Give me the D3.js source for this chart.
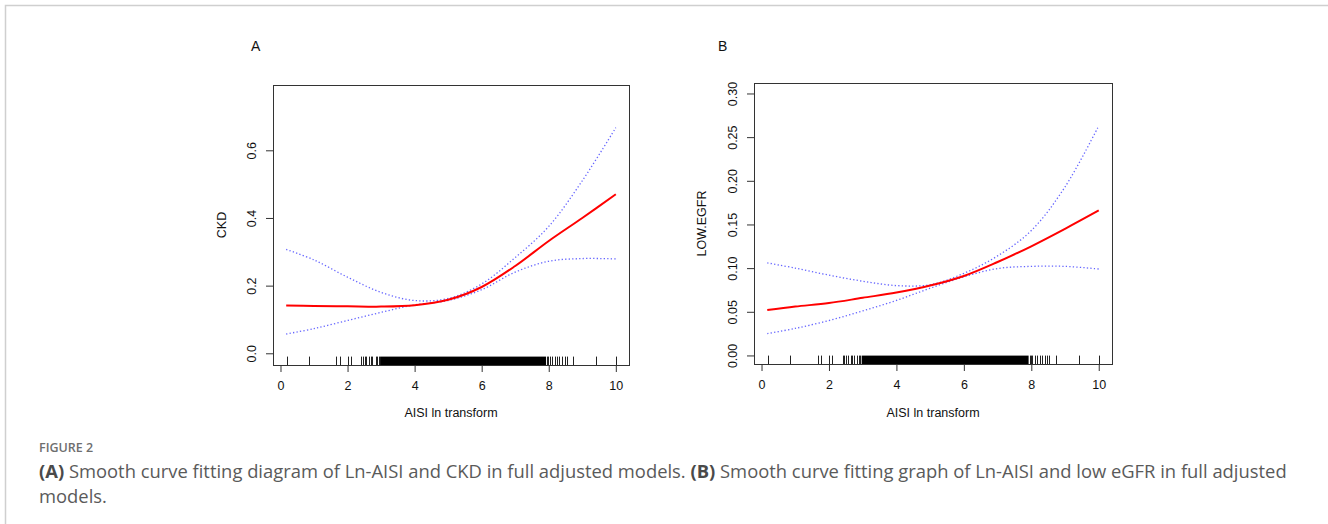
<!DOCTYPE html>
<html>
<head>
<meta charset="utf-8">
<script src="https://cdn.jsdelivr.net/npm/d3@7"></script>
<style>
	body { margin: 0; background: #fff; }
	svg { display: block; }
	.tick text, .ptitle, .atitle { font-family: 'Liberation Sans', Arial, sans-serif; fill: #111; }
	.caption { font-family: 'Open Sans', 'Noto Sans', sans-serif; }
</style>
</head>
<body>
<div id="chart"></div>
<script>
// data ///////////////////////////////////////////////////////////////////////////
var xGrid = [0.17, 1, 2, 3, 4, 5, 6, 7, 8, 9, 10];

var ckdFit   = [0.141, 0.140, 0.139, 0.138, 0.142, 0.158, 0.196, 0.258, 0.332, 0.400, 0.470];
var ckdUpper = [0.307, 0.276, 0.225, 0.180, 0.156, 0.162, 0.205, 0.283, 0.375, 0.510, 0.667];
var ckdLower = [0.057, 0.073, 0.097, 0.121, 0.143, 0.156, 0.188, 0.240, 0.272, 0.280, 0.279];

var egfrFit   = [0.052, 0.056, 0.060, 0.066, 0.072, 0.080, 0.091, 0.107, 0.125, 0.145, 0.166];
var egfrUpper = [0.106, 0.100, 0.092, 0.085, 0.080, 0.081, 0.094, 0.114, 0.143, 0.193, 0.263];
var egfrLower = [0.025, 0.031, 0.040, 0.051, 0.063, 0.077, 0.090, 0.0995, 0.102, 0.102, 0.099];

// observed AISI (ln) values, sparse tails of the rug
var rugTicks = [0.18, 0.85, 1.67, 1.77, 2.00, 2.10, 2.41, 2.46, 2.51, 2.56, 2.64, 2.69, 2.74, 2.84, 2.88, 2.93,
	7.95, 7.98, 8.03, 8.11, 8.18, 8.25, 8.31, 8.41, 8.48, 8.53, 8.73, 9.40, 10.0];
// span where the rug is solid black
var rugDense = [2.97, 7.92];

var xTicks = [0, 2, 4, 6, 8, 10];
var ckdTicks = [0, 0.2, 0.4, 0.6];
var egfrTicks = [0, 0.05, 0.10, 0.15, 0.20, 0.25, 0.30];

var captionA = 'Smooth curve fitting diagram of Ln-AISI and CKD in full adjusted models. ';
var captionB = 'Smooth curve fitting graph of Ln-AISI and low eGFR in full adjusted';
var captionEnd = 'models.';

// layout ///////////////////////////////////////////////////////////////////////////
var width = 1328, height = 524;

var svg = d3.select('#chart').append('svg')
	.attr('width', width)
	.attr('height', height);

svg.append('rect')
	.attr('width', width)
	.attr('height', height)
	.attr('fill', '#fff');

// page frame
svg.append('path')
	.attr('d', 'M5.5,' + height + 'V5.5H' + width)
	.attr('fill', 'none')
	.attr('stroke', '#cfcfcf')
	.attr('stroke-width', 1.5);

function drawPanel(opts) {
	var xmin = d3.min(xGrid), xmax = d3.max(xGrid);
	var pad = (xmax - xmin) * 0.04;
	var x = d3.scaleLinear()
		.domain([xmin - pad, xmax + pad])
		.range([opts.box[0], opts.box[1]]);
	var y = d3.scaleLinear()
		.domain(opts.ydomain)
		.range([opts.box[3], opts.box[2]]);

	var g = svg.append('g');

	// axes
	var xAxis = g.append('g')
		.attr('transform', 'translate(0,' + opts.box[3] + ')')
		.call(d3.axisBottom(x).tickValues(xTicks).tickSize(7).tickFormat(d3.format('d')));
	xAxis.select('.domain').remove();
	xAxis.selectAll('line').attr('stroke', '#333');
	xAxis.selectAll('text')
		.attr('y', 25)
		.attr('dy', 0)
		.style('font-size', '12.5px');

	var yAxis = g.append('g')
		.attr('transform', 'translate(' + opts.box[0] + ',0)')
		.call(d3.axisLeft(y).tickValues(opts.yticks).tickSize(7).tickFormat(d3.format(opts.yfmt)));
	yAxis.select('.domain').remove();
	yAxis.selectAll('line').attr('stroke', '#333');
	yAxis.selectAll('text')
		.attr('x', 0)
		.attr('y', -17)
		.attr('dy', 0)
		.attr('text-anchor', 'middle')
		.attr('transform', 'rotate(-90)')
		.style('font-size', '12.5px');

	// rug
	g.append('rect')
		.attr('x', x(rugDense[0]))
		.attr('y', opts.box[3] - 8.4)
		.attr('width', x(rugDense[1]) - x(rugDense[0]))
		.attr('height', 8.4)
		.attr('fill', '#000');
	g.selectAll('.rug')
		.data(rugTicks)
		.enter().append('line')
		.attr('class', 'rug')
		.attr('x1', function(d) { return Math.round(x(d)) + 0.5; })
		.attr('x2', function(d) { return Math.round(x(d)) + 0.5; })
		.attr('y1', opts.box[3] - 8.4)
		.attr('y2', opts.box[3])
		.attr('stroke', '#222')
		.attr('stroke-width', 1);

	// curves
	var line = d3.line()
		.x(function(d, i) { return x(xGrid[i]); })
		.y(function(d) { return y(d); })
		.curve(d3.curveCatmullRom.alpha(0.5));

	[opts.upper, opts.lower].forEach(function(s) {
		g.append('path')
			.attr('d', line(s))
			.attr('fill', 'none')
			.attr('stroke', '#4a4aff')
			.attr('stroke-opacity', 0.85)
			.attr('stroke-width', 1.3)
			.attr('stroke-dasharray', '1.3,2.2');
	});
	g.append('path')
		.attr('d', line(opts.fit))
		.attr('fill', 'none')
		.attr('stroke', '#ff0000')
		.attr('stroke-width', 2);

	// box
	g.append('rect')
		.attr('x', opts.box[0] + 0.5)
		.attr('y', opts.box[2] + 0.5)
		.attr('width', opts.box[1] - opts.box[0])
		.attr('height', opts.box[3] - opts.box[2])
		.attr('fill', 'none')
		.attr('stroke', '#333')
		.attr('stroke-width', 1);

	// titles
	g.append('text')
		.attr('class', 'ptitle')
		.attr('x', opts.labelx)
		.attr('y', 50.5)
		.style('font-size', '14px')
		.text(opts.label);
	g.append('text')
		.attr('class', 'atitle')
		.attr('x', (opts.box[0] + opts.box[1]) / 2)
		.attr('y', 416.5)
		.attr('text-anchor', 'middle')
		.style('font-size', '12.5px')
		.text('AISI ln transform');
	g.append('text')
		.attr('class', 'atitle')
		.attr('transform', 'translate(' + opts.ytitlex + ',' + (opts.box[2] + opts.box[3]) / 2 + ') rotate(-90)')
		.attr('text-anchor', 'middle')
		.style('font-size', '12.5px')
		.text(opts.ytitle);
}

drawPanel({
	box: [273, 629, 85, 365],
	ydomain: [-0.0346, 0.793],
	yticks: ckdTicks,
	yfmt: '.1f',
	fit: ckdFit, upper: ckdUpper, lower: ckdLower,
	label: 'A', labelx: 251,
	ytitle: 'CKD', ytitlex: 226
});

drawPanel({
	box: [754, 1112, 83, 364],
	ydomain: [-0.0098, 0.312],
	yticks: egfrTicks,
	yfmt: '.2f',
	fit: egfrFit, upper: egfrUpper, lower: egfrLower,
	label: 'B', labelx: 718,
	ytitle: 'LOW.EGFR', ytitlex: 706
});

// caption
svg.append('text')
	.attr('class', 'caption')
	.attr('x', 39)
	.attr('y', 452)
	.attr('fill', '#6e6e6e')
	.style('font-size', '12.5px')
	.style('font-weight', 600)
	.text('FIGURE 2');

var cap1 = svg.append('text')
	.attr('class', 'caption')
	.attr('x', 39)
	.attr('y', 478)
	.attr('fill', '#5a5a5a')
	.style('font-size', '17px');
cap1.append('tspan').style('font-weight', 700).attr('fill', '#4a4a4a').text('(A)');
cap1.append('tspan').text(' ' + captionA);
cap1.append('tspan').style('font-weight', 700).attr('fill', '#4a4a4a').text('(B)');
cap1.append('tspan').text(' ' + captionB);

// fit the first caption line to the width of the original column
var fs = 17 * 1249 / cap1.node().getComputedTextLength();
cap1.style('font-size', fs + 'px');

svg.append('text')
	.attr('class', 'caption')
	.attr('x', 39)
	.attr('y', 503)
	.attr('fill', '#5a5a5a')
	.style('font-size', fs + 'px')
	.text(captionEnd);
</script>
</body>
</html>
